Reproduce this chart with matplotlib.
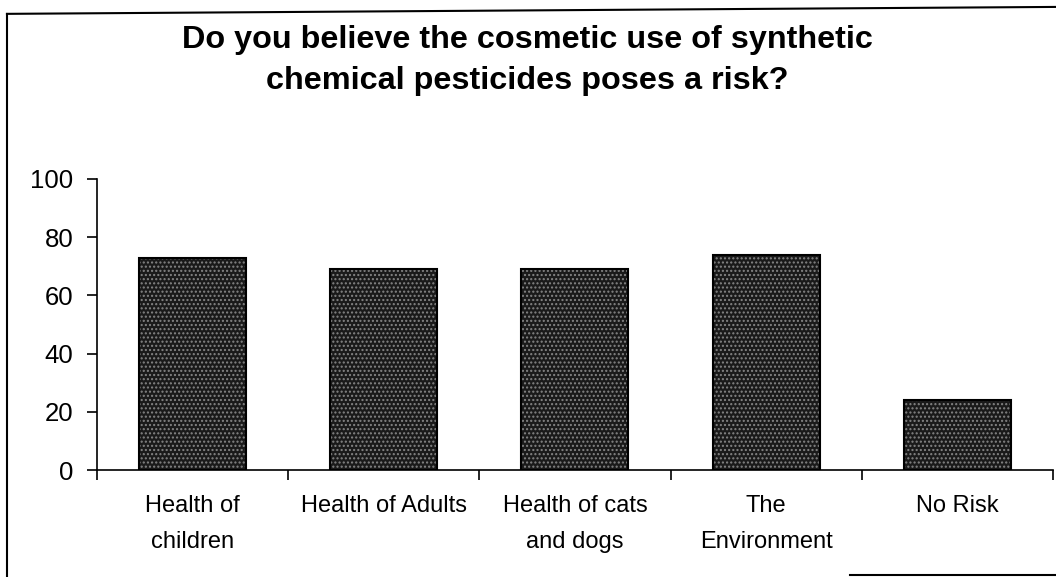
import numpy as np
import matplotlib
matplotlib.use("Agg")
import matplotlib.pyplot as plt
from matplotlib.lines import Line2D

plt.rcParams['font.family'] = ['Liberation Sans', 'DejaVu Sans']

categories = ["Health of\nchildren", "Health of Adults", "Health of cats\nand dogs",
              "The\nEnvironment", "No Risk"]
values = [73, 69, 69, 74, 24]
yticks = [0, 20, 40, 60, 80, 100]
title = "Do you believe the cosmetic use of synthetic\nchemical pesticides poses a risk?"

fig = plt.figure(figsize=(10.56, 5.77), dpi=100)
ax = fig.add_axes([0.0919, 0.1854, 0.9051, 0.5044])

x = np.arange(len(categories))
# dark stippled fill like the scanned original
ax.bar(x, values, width=0.56, color='#1a1a1a', edgecolor='#858585',
       hatch='....', linewidth=0, zorder=2)
ax.bar(x, values, width=0.56, fill=False, edgecolor='black', linewidth=1.5, zorder=3)

ax.set_xlim(-0.5, len(categories) - 0.5)
ax.set_ylim(0, 100)
ax.set_yticks(yticks)
ax.set_yticklabels([str(t) for t in yticks], fontsize=18.5)
ax.set_xticks(np.arange(len(categories) + 1) - 0.5)
ax.set_xticklabels([])
ax.tick_params(axis='both', direction='out', length=7, width=1.2, color='black')
ax.tick_params(axis='y', pad=10)

for i, c in enumerate(categories):
    ax.annotate(c, xy=(i, 0), xycoords=('data', 'axes fraction'),
                xytext=(0, -18), textcoords='offset points',
                ha='center', va='top', fontsize=17, linespacing=1.85)

for s in ['top', 'right']:
    ax.spines[s].set_visible(False)
ax.spines['left'].set_linewidth(1.2)
ax.spines['bottom'].set_linewidth(1.2)

fig.text(0.499, 0.895, title, ha='center', va='center', fontsize=23.3,
         fontweight='bold', linespacing=1.5)

# scanned outer frame
fig.add_artist(Line2D([0.0066, 0.0066], [0.976, 0.0], color='black', lw=1.5))
fig.add_artist(Line2D([0.0066, 1.0], [0.976, 0.988], color='black', lw=1.5))
fig.add_artist(Line2D([0.805, 1.0], [0.003, 0.003], color='black', lw=1.5))

fig.savefig('out.png', dpi=100)
